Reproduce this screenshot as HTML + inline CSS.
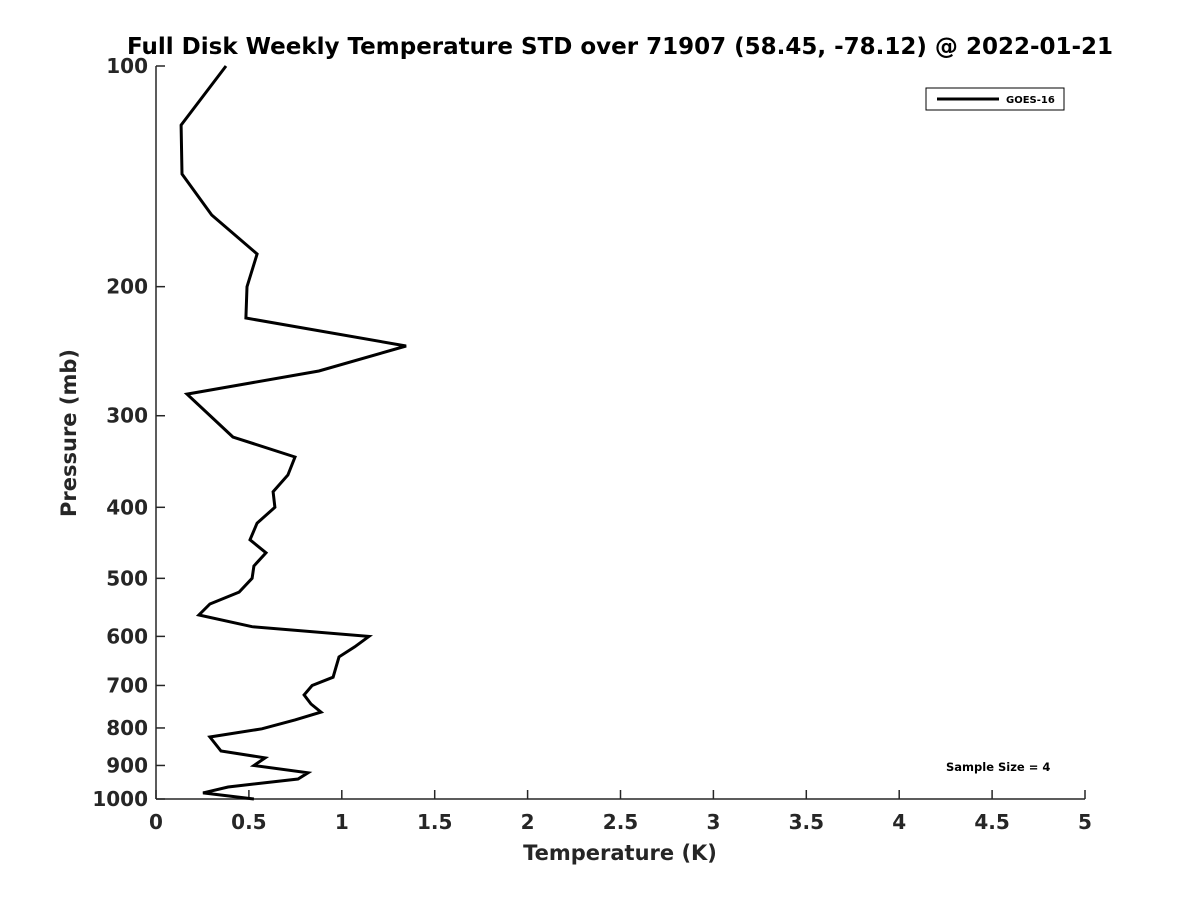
<!DOCTYPE html>
<html><head><meta charset="utf-8"><style>
body{margin:0;background:#fff;}
svg text{font-family:"DejaVu Sans","Liberation Sans",sans-serif;font-weight:bold;fill:#262626;}
</style></head><body>
<svg id="chart" width="1200" height="900" xmlns="http://www.w3.org/2000/svg">
<rect width="1200" height="900" fill="#fff"/>
<text x="620" y="54" font-size="23" text-anchor="middle" style="fill:#000">Full Disk Weekly Temperature STD over 71907 (58.45, -78.12) @ 2022-01-21</text>
<g id="axes"></g>
<polyline id="series" fill="none" stroke="#000" stroke-width="3" stroke-linejoin="miter"/>
<g>
<rect x="926" y="88" width="138" height="22" fill="#fff" stroke="#000" stroke-width="1"/>
<line x1="937" y1="99" x2="999" y2="99" stroke="#000" stroke-width="3"/>
<text x="1006" y="103" font-size="10" style="fill:#000">GOES-16</text>
</g>
<text x="946" y="771" font-size="11.5" style="fill:#000">Sample Size = 4</text>
<text x="620" y="860" font-size="21" text-anchor="middle">Temperature (K)</text>
<text transform="translate(76,433) rotate(-90)" font-size="21" text-anchor="middle">Pressure (mb)</text>
</svg>
<script>
const pressures=[100,120.4,140.4,159.7,180.5,200,220.7,241,260.7,280.3,320.7,341.5,361.4,381,400,420.3,443,461.5,481,500,522,542,561,582,600,620,640,661,682,700,721,742,761,780,802,823,860,879,900,921,939,963,981,1000];
const stdValues=[0.377,0.135,0.14,0.30,0.544,0.49,0.484,1.346,0.877,0.167,0.414,0.748,0.71,0.63,0.64,0.544,0.506,0.592,0.527,0.517,0.447,0.29,0.231,0.517,1.146,1.07,0.985,0.969,0.953,0.84,0.797,0.834,0.888,0.748,0.57,0.29,0.35,0.587,0.527,0.818,0.764,0.388,0.253,0.527];
const xTicks=[0,0.5,1,1.5,2,2.5,3,3.5,4,4.5,5];
const yTicks=[100,200,300,400,500,600,700,800,900,1000];
const X0=156,X1=1085,Y0=66,Y1=799;
const xs=v=>X0+(v-0)/5*(X1-X0);
const ys=p=>Y0+Math.log10(p/100)*(Y1-Y0);
const NS="http://www.w3.org/2000/svg";
const g=document.getElementById('axes');
function mk(t,a){const e=document.createElementNS(NS,t);for(const k in a)e.setAttribute(k,a[k]);g.appendChild(e);return e;}
const ax=mk('line',{x1:X0,y1:Y1,x2:X1,y2:Y1,stroke:'#262626','stroke-width':1.5});


const ay=mk('line',{x1:X0,y1:Y0,x2:X0,y2:Y1,stroke:'#262626','stroke-width':1.5});


xTicks.forEach(v=>{
 const x=xs(v);
 const t=mk('line',{x1:x,y1:Y1,x2:x,y2:Y1-9,stroke:'#262626','stroke-width':1.5});
 
 
 const l=mk('text',{x:x,y:Y1+30,'font-size':20,'text-anchor':'middle'});
 l.textContent=String(v);
 
 
});
yTicks.forEach(p=>{
 const y=ys(p);
 const t=mk('line',{x1:X0,y1:y,x2:X0+9,y2:y,stroke:'#262626','stroke-width':1.5});
 
 
 const l=mk('text',{x:X0-8,y:y+7,'font-size':20,'text-anchor':'end'});
 l.textContent=String(p);
 
 
});
document.getElementById('series').setAttribute('points',pressures.map((p,i)=>xs(stdValues[i]).toFixed(1)+','+ys(p).toFixed(1)).join(' '));
</script>
</body></html>
